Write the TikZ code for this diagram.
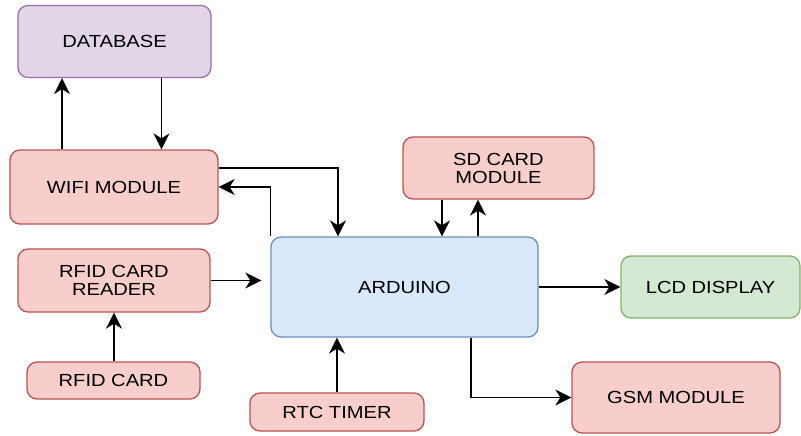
\documentclass[tikz,border=0pt]{standalone}
\usepackage{fontspec}
\setmainfont{Liberation Sans}[FakeStretch=1.15]
\usepackage{tikz}
\usetikzlibrary{positioning,arrows.meta,calc}
\definecolor{redfill}{HTML}{F8CECC}
\definecolor{redline}{HTML}{B85450}
\definecolor{bluefill}{HTML}{DAE8FC}
\definecolor{blueline}{HTML}{6C8EBF}
\definecolor{greenfill}{HTML}{D5E8D4}
\definecolor{greenline}{HTML}{82B366}
\definecolor{purplefill}{HTML}{E1D5E7}
\definecolor{purpleline}{HTML}{9673A6}

\begin{document}
\begin{tikzpicture}[x=1pt,y=-1pt,
  blk/.style={rounded corners=10pt, line width=1.3pt, align=center,
    inner sep=0pt, font=\fontsize{17.5}{18}\selectfont},
  redblk/.style={blk, draw=redline, fill=redfill},
  blueblk/.style={blk, draw=blueline, fill=bluefill},
  greenblk/.style={blk, draw=greenline, fill=greenfill},
  purpleblk/.style={blk, draw=purpleline, fill=purplefill},
  arr/.style={-{Stealth[length=16pt,width=16pt,inset=5pt]}, line width=1.5pt}]
\useasboundingbox (0,0) rectangle (801,436);

% blocks
\node[purpleblk, minimum width=193pt, minimum height=72pt] (db) at (114.5,41.5) {DATABASE};
\node[redblk, minimum width=208pt, minimum height=74pt] (wifi) at (114,187) {WIFI MODULE};
\node[redblk, minimum width=192pt, minimum height=63pt] (reader) at (114,280.5) {RFID CARD\\READER};
\node[redblk, minimum width=173pt, minimum height=37pt] (card) at (113.5,380.5) {RFID CARD};
\node[redblk, minimum width=174pt, minimum height=38pt] (rtc) at (337,412) {RTC TIMER};
\node[blueblk, minimum width=267pt, minimum height=100pt] (ard) at (404.5,287) {ARDUINO};
\node[redblk, minimum width=191pt, minimum height=62pt] (sd) at (498.5,168) {SD CARD\\MODULE};
\node[greenblk, minimum width=179pt, minimum height=62pt] (lcd) at (710.5,287) {LCD DISPLAY};
\node[redblk, minimum width=208pt, minimum height=71pt] (gsm) at (676,397.5) {GSM MODULE};

% connections
\draw[arr] ([xshift=-52pt]wifi.north) -- ([xshift=-52pt]wifi.north |- db.south);
\draw[arr] ([xshift=47pt]db.south) -- ([xshift=47pt]db.south |- wifi.north);
\draw[arr] ([yshift=19pt]wifi.east) -| ([xshift=-66.5pt]ard.north);
\draw[arr] (ard.north west) |- (wifi.east);
\draw[arr] ([xshift=-56.5pt]sd.south) -- ([xshift=-56.5pt]sd.south |- ard.north);
\draw[arr] ([xshift=-20.5pt]sd.south |- ard.north) -- ([xshift=-20.5pt]sd.south);
\draw[arr, shorten >=9pt] (reader.east) -- (reader.east -| ard.west);
\draw[arr] (reader.south |- card.north) -- (reader.south);
\draw[arr] (rtc.north) -- (rtc.north |- ard.south);
\draw[arr] (ard.east) -- (lcd.west);
\draw[arr] ([xshift=66.5pt]ard.south) |- (gsm.west);
\end{tikzpicture}
\end{document}
